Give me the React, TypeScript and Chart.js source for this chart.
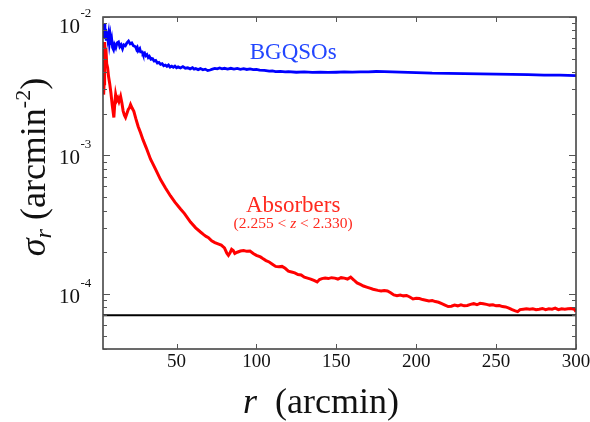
import React, { useEffect, useRef } from "react";
import { Chart, registerables } from "chart.js";

Chart.register(...registerables);

// ---------- data ----------
const rBlue = [
  4.4, 4.8, 5.2, 5.6, 6.0, 6.5, 7.0, 7.5, 8.0, 8.5, 9.0, 9.5, 10, 10.6, 11.2, 12, 12.8, 13.7, 14.5, 15.3,
  16.2, 17, 18, 19, 20, 21, 22, 23, 24.4, 25, 25.5, 26, 27, 27.5, 28.5, 29, 30, 30.7, 31.5, 32.3,
  33, 34, 35, 36, 37, 38, 39, 40, 41, 42, 43, 44, 45, 46, 47, 48, 49, 50, 51, 52.5,
  54, 55.5, 57, 58.5, 60, 61, 62, 63.5, 65, 66.5, 68, 69.5, 71, 72.5, 74, 75.5, 77, 78.5, 80, 82,
  84, 86, 88, 90, 92, 94, 96, 98, 100, 102, 105, 108, 110, 112, 115, 118, 120, 125, 130, 135,
  140, 145, 150, 155, 160, 165, 170, 175, 180, 185, 190, 195, 200, 210, 220, 230, 240, 250, 260, 270,
  280, 290, 300,
];
const sigmaBlue = [
  7.0e-3, 8.9e-3, 7.2e-3, 8.2e-3, 6.9e-3, 7.9e-3, 7.0e-3, 7.6e-3, 6.5e-3, 7.2e-3, 6.3e-3, 6.8e-3, 6.0e-3, 5.8e-3, 6.3e-3, 6.0e-3, 6.5e-3, 6.6e-3, 6.1e-3, 6.3e-3,
  5.9e-3, 6.3e-3, 6.2e-3, 6.5e-3, 6.7e-3, 6.4e-3, 6.5e-3, 6.2e-3, 6.1e-3, 5.85e-3, 6.0e-3, 5.7e-3, 5.9e-3, 5.6e-3, 5.6e-3, 5.4e-3, 5.5e-3, 5.25e-3, 5.35e-3, 5.1e-3,
  5.2e-3, 4.95e-3, 5.0e-3, 4.8e-3, 4.85e-3, 4.65e-3, 4.7e-3, 4.55e-3, 4.6e-3, 4.45e-3, 4.5e-3, 4.4e-3, 4.5e-3, 4.35e-3, 4.42e-3, 4.33e-3, 4.42e-3, 4.3e-3, 4.36e-3, 4.28e-3,
  4.38e-3, 4.27e-3, 4.3e-3, 4.22e-3, 4.3e-3, 4.2e-3, 4.25e-3, 4.17e-3, 4.24e-3, 4.16e-3, 4.2e-3, 4.1e-3, 4.14e-3, 4.2e-3, 4.25e-3, 4.22e-3, 4.28e-3, 4.22e-3, 4.26e-3, 4.2e-3,
  4.26e-3, 4.21e-3, 4.25e-3, 4.19e-3, 4.23e-3, 4.18e-3, 4.22e-3, 4.17e-3, 4.19e-3, 4.13e-3, 4.12e-3, 4.06e-3, 4.08e-3, 4.03e-3, 4.05e-3, 4.01e-3, 4.03e-3, 3.99e-3, 4.01e-3, 3.98e-3,
  4.0e-3, 3.98e-3, 3.99e-3, 4.01e-3, 4.0e-3, 4.02e-3, 4.02e-3, 4.04e-3, 4.03e-3, 4.01e-3, 4.0e-3, 3.98e-3, 3.97e-3, 3.93e-3, 3.92e-3, 3.9e-3, 3.88e-3, 3.87e-3, 3.85e-3, 3.83e-3,
  3.8e-3, 3.8e-3, 3.77e-3,
];

const rRed = [
  4.4, 4.7, 5.0, 5.4, 5.8, 6.3, 6.9, 7.5, 8.2, 9.0, 9.8, 10.8, 11.4, 11.9, 12.6, 13.3, 14, 15, 15.8, 16.6,
  17.4, 18.1, 18.9, 19.8, 20.5, 21.25, 22.2, 23.3, 24.5, 26, 27.5, 29, 31, 33.75, 35, 37, 40, 43, 46.25, 49,
  52.5, 55, 58.75, 62, 65, 67, 68.5, 70, 72, 74, 76, 78, 80, 81.5, 82.5, 83.5,
  84.5, 85.5, 86.5, 88, 90, 92, 94, 96, 98, 100, 102.5, 104, 106, 108, 110, 112, 114, 116, 118, 120,
  122, 124, 126, 128, 130, 132, 134, 136, 138, 139.5, 141, 143, 145, 147, 149, 151, 153, 155, 157, 159,
  161, 163, 165, 167, 169, 171, 173, 176, 178, 180, 182, 184, 186, 188, 190, 192, 194, 196, 198, 200,
  202, 204, 206, 208, 210, 212, 214, 216, 218, 220, 222, 224, 226, 228, 230, 232, 234, 236, 238, 240,
  242, 244, 246, 248, 250, 252, 254, 256, 258, 260, 262, 263.5, 265, 267, 269, 271, 273, 275, 277, 279,
  281, 283, 285, 287, 289, 291, 293, 295, 297, 299, 300,
];
const sigmaRed = [
  2.75e-3, 3.3e-3, 6.6e-3, 5.6e-3, 6.0e-3, 4.6e-3, 4.3e-3, 3.7e-3, 3.3e-3, 2.8e-3, 2.3e-3, 1.88e-3, 2.4e-3, 2.75e-3, 2.5e-3, 2.6e-3, 2.45e-3, 2.67e-3, 2.4e-3, 2.1e-3,
  1.95e-3, 1.88e-3, 2.0e-3, 2.15e-3, 2.2e-3, 2.33e-3, 2.2e-3, 2.08e-3, 1.85e-3, 1.62e-3, 1.46e-3, 1.3e-3, 1.14e-3, 9.4e-4, 8.8e-4, 7.9e-4, 6.7e-4, 5.85e-4, 5.1e-4, 4.6e-4,
  4.1e-4, 3.8e-4, 3.3e-4, 3.0e-4, 2.8e-4, 2.68e-4, 2.6e-4, 2.55e-4, 2.42e-4, 2.35e-4, 2.3e-4, 2.25e-4, 2.15e-4, 1.97e-4, 1.9e-4, 1.98e-4,
  2.1e-4, 2.06e-4, 1.96e-4, 2.0e-4, 2.04e-4, 2.06e-4, 2.03e-4, 2.04e-4, 1.96e-4, 1.9e-4, 1.85e-4, 1.8e-4, 1.74e-4, 1.7e-4, 1.64e-4, 1.58e-4, 1.57e-4, 1.58e-4, 1.53e-4, 1.46e-4,
  1.44e-4, 1.42e-4, 1.38e-4, 1.37e-4, 1.32e-4, 1.3e-4, 1.28e-4, 1.25e-4, 1.22e-4, 1.27e-4, 1.29e-4, 1.3e-4, 1.29e-4, 1.31e-4, 1.3e-4, 1.28e-4, 1.31e-4, 1.3e-4, 1.28e-4, 1.32e-4,
  1.26e-4, 1.2e-4, 1.17e-4, 1.14e-4, 1.12e-4, 1.1e-4, 1.08e-4, 1.06e-4, 1.05e-4, 1.06e-4, 1.05e-4, 1.02e-4, 9.84e-5, 9.7e-5, 9.8e-5, 9.68e-5, 9.75e-5, 9.5e-5, 9.2e-5, 9.3e-5,
  9.25e-5, 9.1e-5, 9.0e-5, 8.9e-5, 8.95e-5, 8.8e-5, 8.7e-5, 8.5e-5, 8.3e-5, 8.1e-5, 8.15e-5, 8.3e-5, 8.2e-5, 8.35e-5, 8.2e-5, 8.25e-5, 8.4e-5, 8.5e-5, 8.35e-5, 8.55e-5,
  8.5e-5, 8.4e-5, 8.3e-5, 8.35e-5, 8.2e-5, 8.25e-5, 8.1e-5, 8.05e-5, 7.9e-5, 7.7e-5, 7.55e-5, 7.45e-5, 7.7e-5, 7.75e-5, 7.8e-5, 7.75e-5, 7.8e-5, 7.7e-5, 7.75e-5, 7.85e-5,
  7.7e-5, 7.8e-5, 7.75e-5, 7.9e-5, 7.7e-5, 7.8e-5, 7.75e-5, 7.8e-5, 7.85e-5, 7.75e-5, 7.45e-5,
];

const rRange = [4, 300];
const sigmaRange = [4e-5, 1e-2];
const randomLevel = 7e-5;
const xTickValues = [50, 100, 150, 200, 250, 300];
const yDecadeExponents = [-2, -3, -4];

// annotation anchors (data coordinates)
const labelBlue = { text: "BGQSOs", r: 123, sigma: 5.0e-3 };
const labelRed = { text: "Absorbers", r: 123, sigma: 3.9e-4 };
const labelRedSub = { r: 123, sigma: 2.98e-4 };

const SERIF = '"Liberation Serif", "Times New Roman", serif';

type Piece = { text: string; font: string; dy: number };

function drawPieces(ctx: CanvasRenderingContext2D, pieces: Piece[], x: number, y: number, align: "left" | "center") {
  let total = 0;
  for (const p of pieces) {
    ctx.font = p.font;
    total += ctx.measureText(p.text).width;
  }
  let cx = align === "center" ? x - total / 2 : x;
  ctx.textAlign = "left";
  ctx.textBaseline = "alphabetic";
  for (const p of pieces) {
    ctx.font = p.font;
    ctx.fillText(p.text, cx, y + p.dy);
    cx += ctx.measureText(p.text).width;
  }
}

const decorPlugin = {
  id: "decor",
  afterDraw(chart: any) {
    const ctx: CanvasRenderingContext2D = chart.ctx;
    const { left, right, top, bottom } = chart.chartArea;
    const xs = chart.scales.x;
    const ys = chart.scales.y;
    ctx.save();

    // frame
    ctx.strokeStyle = "#3a3a3a";
    ctx.lineWidth = 1.5;
    ctx.strokeRect(left, top, right - left, bottom - top);

    // x ticks (inward, bottom and top)
    ctx.lineWidth = 1;
    ctx.strokeStyle = "#555";
    for (const v of xTickValues) {
      const px = Math.round(xs.getPixelForValue(v)) + 0.5;
      ctx.beginPath();
      ctx.moveTo(px, bottom);
      ctx.lineTo(px, bottom - 5);
      ctx.moveTo(px, top);
      ctx.lineTo(px, top + 5);
      ctx.stroke();
    }
    // y ticks (log, major + minor)
    for (let d = -5; d <= -2; d++) {
      for (let m = 1; m <= 9; m++) {
        const v = m * Math.pow(10, d);
        if (v < sigmaRange[0] * 0.999 || v > sigmaRange[1] * 1.001) continue;
        const py = Math.round(ys.getPixelForValue(v)) + 0.5;
        const len = m === 1 ? 7 : 4;
        ctx.beginPath();
        ctx.moveTo(left, py);
        ctx.lineTo(left + len, py);
        ctx.moveTo(right, py);
        ctx.lineTo(right - len, py);
        ctx.stroke();
      }
    }

    ctx.fillStyle = "#111";
    // x tick labels
    ctx.font = `19px ${SERIF}`;
    ctx.textAlign = "center";
    ctx.textBaseline = "alphabetic";
    for (const v of xTickValues) {
      ctx.fillText(String(v), xs.getPixelForValue(v), bottom + 18);
    }
    // y tick labels 10^n
    for (const e of yDecadeExponents) {
      const py = ys.getPixelForValue(Math.pow(10, e));
      const base = Math.max(py + 9, top + 16);
      ctx.font = `21px ${SERIF}`;
      ctx.textAlign = "right";
      ctx.fillText("10", 80, base);
      ctx.font = `13px ${SERIF}`;
      ctx.textAlign = "left";
      ctx.fillText(String(e), 80.5, base - 16);
    }

    // y axis title (rotated)
    ctx.save();
    ctx.translate(45, 167);
    ctx.rotate(-Math.PI / 2);
    drawPieces(
      ctx,
      [
        { text: "σ", font: `italic 36px ${SERIF}`, dy: 0 },
        { text: "r", font: `italic 24px ${SERIF}`, dy: 6 },
        { text: " (arcmin", font: `36px ${SERIF}`, dy: 0 },
        { text: "-2", font: `22px ${SERIF}`, dy: -15 },
        { text: ")", font: `36px ${SERIF}`, dy: 0 },
      ],
      0,
      0,
      "center"
    );
    ctx.restore();

    // x axis title
    drawPieces(
      ctx,
      [
        { text: "r", font: `italic 36px ${SERIF}`, dy: 0 },
        { text: "  (arcmin)", font: `36px ${SERIF}`, dy: 0 },
      ],
      243,
      413,
      "left"
    );

    // annotations
    ctx.fillStyle = "#2246ff";
    drawPieces(ctx, [{ text: labelBlue.text, font: `23px ${SERIF}`, dy: 0 }],
      xs.getPixelForValue(labelBlue.r), ys.getPixelForValue(labelBlue.sigma), "center");
    ctx.fillStyle = "#ff2a1f";
    drawPieces(ctx, [{ text: labelRed.text, font: `23px ${SERIF}`, dy: 0 }],
      xs.getPixelForValue(labelRed.r), ys.getPixelForValue(labelRed.sigma), "center");
    drawPieces(
      ctx,
      [
        { text: "(2.255 < ", font: `15.5px ${SERIF}`, dy: 0 },
        { text: "z", font: `italic 15.5px ${SERIF}`, dy: 0 },
        { text: " < 2.330)", font: `15.5px ${SERIF}`, dy: 0 },
      ],
      xs.getPixelForValue(labelRedSub.r),
      ys.getPixelForValue(labelRedSub.sigma),
      "center"
    );

    ctx.restore();
  },
};

export default function App() {
  const canvasRef = useRef<HTMLCanvasElement | null>(null);

  useEffect(() => {
    const canvas = canvasRef.current;
    if (!canvas) return;
    const blue = rBlue.map((r, i) => ({ x: r, y: sigmaBlue[i] }));
    const red = rRed.map((r, i) => ({ x: r, y: sigmaRed[i] }));
    const flat = rRange.map((r) => ({ x: r, y: randomLevel }));

    const chart = new Chart(canvas, {
      type: "line",
      data: {
        datasets: [
          { data: flat, borderColor: "#000", borderWidth: 2, pointRadius: 0 },
          { data: red, borderColor: "#ff0000", borderWidth: 3, pointRadius: 0 },
          { data: blue, borderColor: "#0000ff", borderWidth: 2.8, pointRadius: 0 },
        ],
      },
      options: {
        animation: false,
        responsive: false,
        layout: { padding: { left: 103, right: 14, top: 17, bottom: 73 } },
        plugins: { legend: { display: false }, tooltip: { enabled: false } },
        elements: { line: { tension: 0 }, point: { radius: 0 } },
        scales: {
          x: { type: "linear", min: rRange[0], max: rRange[1], display: false },
          y: { type: "logarithmic", min: sigmaRange[0], max: sigmaRange[1], display: false },
        },
      },
      plugins: [decorPlugin],
    } as any);

    return () => chart.destroy();
  }, []);

  return (
    <div style={{ position: "absolute", left: 0, top: 0, width: 590, height: 422, background: "#fff" }}>
      <canvas ref={canvasRef} width={590} height={422} />
    </div>
  );
}
